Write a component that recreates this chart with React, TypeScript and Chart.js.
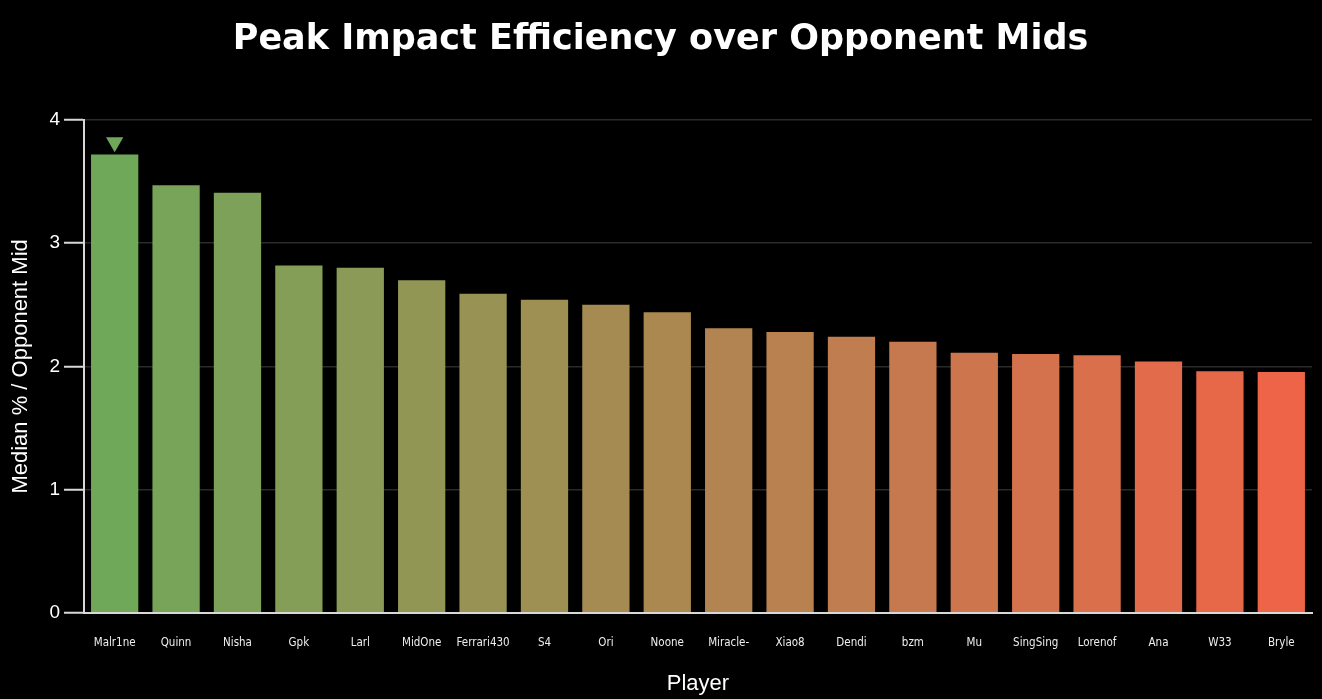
import { useEffect, useRef } from "react";
import { Chart, registerables } from "chart.js";

Chart.register(...registerables);

const players = [
  "Malr1ne", "Quinn", "Nisha", "Gpk", "Larl", "MidOne", "Ferrari430", "S4", "Ori", "Noone",
  "Miracle-", "Xiao8", "Dendi", "bzm", "Mu", "SingSing", "Lorenof", "Ana", "W33", "Bryle",
];
const medianRatio = [
  3.72, 3.47, 3.41, 2.82, 2.80, 2.70, 2.59, 2.54, 2.50, 2.44,
  2.31, 2.28, 2.24, 2.20, 2.11, 2.10, 2.09, 2.04, 1.96, 1.955,
];
const peakMarker = [3.82, null, null, null, null, null, null, null, null, null,
  null, null, null, null, null, null, null, null, null, null];
const yTicks = [0, 1, 2, 3, 4];

const startColor = [112, 168, 90];
const endColor = [238, 100, 72];
const barColor = (i: number) => {
  const t = i / (players.length - 1);
  const c = startColor.map((s, k) => Math.round(s + (endColor[k] - s) * t));
  return `rgb(${c[0]}, ${c[1]}, ${c[2]})`;
};

const sans = "'Liberation Sans', Arial, sans-serif";
const narrow = "'DejaVu Sans Condensed', 'Liberation Sans', Arial, sans-serif";

const App = () => {
  const chartRef = useRef<HTMLCanvasElement>(null);
  const chartInstance = useRef<Chart | null>(null);

  useEffect(() => {
    if (!chartRef.current) return;
    if (chartInstance.current) chartInstance.current.destroy();

    chartInstance.current = new Chart(chartRef.current, {
      type: "bar",
      data: {
        labels: players,
        datasets: [
          {
            type: "line",
            data: peakMarker,
            showLine: false,
            pointStyle: "triangle",
            rotation: 180,
            pointRadius: 10,
            pointBackgroundColor: "rgb(112, 168, 90)",
            pointBorderWidth: 0,
          } as any,
          {
            type: "bar",
            data: medianRatio,
            backgroundColor: players.map((_, i) => barColor(i)),
            borderWidth: 0,
            barPercentage: 0.77,
            categoryPercentage: 1,
          },
        ],
      },
      options: {
        animation: false,
        responsive: true,
        maintainAspectRatio: false,
        layout: { padding: { left: 8, right: 9, top: 0, bottom: 2 } },
        plugins: {
          legend: { display: false },
          tooltip: { enabled: false },
          title: {
            display: true,
            text: "Peak Impact Efficiency over Opponent Mids",
            color: "#ffffff",
            font: { family: "'DejaVu Sans', sans-serif", size: 35, weight: "bold" },
            padding: { top: 19, bottom: 59 },
          },
        },
        scales: {
          x: {
            grid: { display: false },
            border: { display: true, color: "#d8d8d8", width: 2 },
            ticks: {
              color: "#eeeeee",
              font: { family: narrow, size: 11.5 },
              padding: 15,
              maxRotation: 0,
              autoSkip: false,
            },
            title: {
              display: true,
              text: "Player",
              color: "#ffffff",
              font: { family: sans, size: 22 },
              padding: { top: 6, bottom: 0 },
            },
          },
          y: {
            min: 0,
            max: 4,
            afterBuildTicks: (scale: any) => {
              scale.ticks = yTicks.map((v) => ({ value: v }));
            },
            grid: { color: "#2a2a2a", lineWidth: 1.5, tickColor: "#d8d8d8", tickLength: 20, tickWidth: 2 },
            border: { display: true, color: "#d8d8d8", width: 2 },
            ticks: {
              color: "#ffffff",
              font: { family: sans, size: 19 },
              padding: 4,
            },
            title: {
              display: true,
              text: "Median % / Opponent Mid",
              color: "#ffffff",
              font: { family: sans, size: 22 },
              padding: { top: 0, bottom: 11 },
            },
          },
        },
      },
    });

    return () => {
      if (chartInstance.current) {
        chartInstance.current.destroy();
        chartInstance.current = null;
      }
    };
  }, []);

  return (
    <div style={{ position: "fixed", left: 0, top: 0, width: 1322, height: 699, background: "#000" }}>
      <canvas ref={chartRef} style={{ width: "100%", height: "100%" }} />
    </div>
  );
};

export default App;
